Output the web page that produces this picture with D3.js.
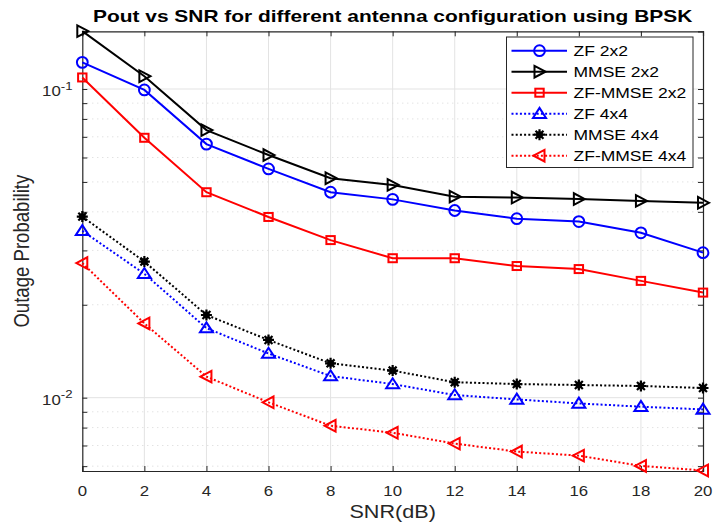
<!DOCTYPE html>
<html><head><meta charset="utf-8">
<script src="https://cdn.jsdelivr.net/npm/d3@7"></script>
<style>body{margin:0;background:#fff}svg{display:block;font-family:"Liberation Sans",Arial,sans-serif}</style>
</head><body>
<svg id="c" width="714" height="526"></svg>
<script>
const snr = [0,2,4,6,8,10,12,14,16,18,20];
const zf2x2 = [0.122,0.0993,0.0663,0.0551,0.0463,0.0439,0.0404,0.0380,0.0372,0.0342,0.0295];
const mmse2x2 = [0.154,0.110,0.0736,0.0611,0.0514,0.0489,0.0448,0.0445,0.0440,0.0434,0.0428];
const zfmmse2x2 = [0.109,0.0695,0.0463,0.0385,0.0324,0.0283,0.0283,0.0267,0.0261,0.0239,0.0219];
const zf4x4 = [0.0347,0.0252,0.0168,0.0139,0.01175,0.01107,0.0102,0.00987,0.00958,0.00935,0.00916];
const mmse4x4 = [0.0386,0.0276,0.01853,0.01538,0.01292,0.01224,0.01122,0.01107,0.01099,0.01091,0.01075];
const zfmmse4x4 = [0.0273,0.0174,0.0117,0.00966,0.00811,0.0077,0.0071,0.00669,0.00649,0.00601,0.00581];
const seriesNames = ["ZF 2x2","MMSE 2x2","ZF-MMSE 2x2","ZF 4x4","MMSE 4x4","ZF-MMSE 4x4"];
const xTicks = [0,2,4,6,8,10,12,14,16,18,20];
const yMajor = [0.1,0.01];
const yMinor = [0.006,0.007,0.008,0.009,0.02,0.03,0.04,0.05,0.06,0.07,0.08,0.09];
const yDomain = [0.005787,0.1538];
const xDomain = [0,20];
const titleText = "Pout vs SNR for different antenna configuration using BPSK";
const xLabel = "SNR(dB)";
const yLabel = "Outage Probability";

const styles = [
  {color:"#0000ff", dash:null, marker:"circle"},
  {color:"#000000", dash:null, marker:"triRight"},
  {color:"#ff0000", dash:null, marker:"square"},
  {color:"#0000ff", dash:"2,2.2", marker:"triUp"},
  {color:"#000000", dash:"2,2.2", marker:"star"},
  {color:"#ff0000", dash:"2,2.2", marker:"triLeft"}
];
const seriesData = [zf2x2, mmse2x2, zfmmse2x2, zf4x4, mmse4x4, zfmmse4x4];

const L=82.3, R=703, T=31.3, B=471;
const SX = 1.2;
const x = d3.scaleLinear().domain(xDomain).range([L,R]);
const y = d3.scaleLog().domain(yDomain).range([B,T]);
const svg = d3.select("#c");
const axisCol = "#262626";

// grid
const grid = svg.append("g");
grid.selectAll(".gx").data(xTicks.slice(1,-1)).join("line")
  .attr("x1",d=>x(d)).attr("x2",d=>x(d)).attr("y1",T).attr("y2",B)
  .attr("stroke","#e3e3e3").attr("stroke-width",1);
grid.selectAll(".gy").data(yMajor).join("line")
  .attr("x1",L).attr("x2",R).attr("y1",d=>y(d)).attr("y2",d=>y(d))
  .attr("stroke","#e3e3e3").attr("stroke-width",1);
grid.selectAll(".gm").data(yMinor).join("line")
  .attr("x1",L).attr("x2",R).attr("y1",d=>y(d)).attr("y2",d=>y(d))
  .attr("stroke","#d6d6d6").attr("stroke-width",1).attr("stroke-dasharray","1,4");

// axes with d3 axis generators (inward ticks)
const axB = d3.axisBottom(x).tickValues(xTicks).tickSize(-5).tickFormat("");
const axT = d3.axisTop(x).tickValues(xTicks).tickSize(-5).tickFormat("");
const yAll = yMajor.concat(yMinor);
const axLft = d3.axisLeft(y).tickValues(yAll).tickSize(-5).tickFormat("");
const axRgt = d3.axisRight(y).tickValues(yAll).tickSize(-5).tickFormat("");
function styleAxis(g){ g.selectAll("path").attr("stroke",axisCol).attr("stroke-width",1.2);
  g.selectAll("line").attr("stroke",axisCol).attr("stroke-width",1); }
svg.append("g").attr("transform",`translate(0,${B})`).call(axB).call(styleAxis);
svg.append("g").attr("transform",`translate(0,${T})`).call(axT).call(styleAxis);
svg.append("g").attr("transform",`translate(${L},0)`).call(axLft).call(styleAxis);
svg.append("g").attr("transform",`translate(${R},0)`).call(axRgt).call(styleAxis);

// horizontally stretched text helper
function sText(px,py,txt,size,anchor,weight,sx){
  const g = svg.append("g").attr("transform",`translate(${px},${py}) scale(${sx||SX},1)`);
  const t = g.append("text").attr("x",0).attr("y",0).attr("font-size",size)
    .attr("text-anchor",anchor||"start").attr("fill",axisCol);
  if(weight) t.attr("font-weight",weight);
  if(txt!==null) t.text(txt);
  return t;
}
xTicks.forEach(v=>sText(x(v),496,String(v),14,"middle"));
yMajor.forEach(v=>{
  const e = Math.round(Math.log10(v));
  const t = sText(72.5,y(v)+7,null,14,"end");
  t.append("tspan").text("10");
  t.append("tspan").attr("font-size",11).attr("dy",-6.5).text("-"+Math.abs(e));
});

// title & labels
sText((L+R)/2,21.5,titleText,17,"middle","bold",1.23).attr("fill","#000");
sText((L+R)/2,517.5,xLabel,18,"middle");
svg.append("g").attr("transform",`translate(29,${(T+B)/2}) scale(1.15,1) rotate(-90)`)
  .append("text").attr("text-anchor","middle").attr("font-size",18.6).attr("fill",axisCol).text(yLabel);

// markers
function drawMarker(g,type,cx,cy,color){
  const sw = 2;
  if(type==="circle"){
    g.append("circle").attr("cx",cx).attr("cy",cy).attr("r",5.4).attr("fill","none").attr("stroke",color).attr("stroke-width",sw);
  } else if(type==="square"){
    g.append("rect").attr("x",cx-4.2).attr("y",cy-4).attr("width",8.4).attr("height",8).attr("fill","none").attr("stroke",color).attr("stroke-width",sw);
  } else if(type==="triUp"){
    g.append("path").attr("d",`M${cx},${cy-5.8}L${cx+6.5},${cy+4.2}L${cx-6.5},${cy+4.2}Z`).attr("fill","none").attr("stroke",color).attr("stroke-width",sw);
  } else if(type==="triRight"){
    g.append("path").attr("d",`M${cx+6},${cy}L${cx-5},${cy-5.8}L${cx-5},${cy+5.8}Z`).attr("fill","none").attr("stroke",color).attr("stroke-width",sw);
  } else if(type==="triLeft"){
    g.append("path").attr("d",`M${cx-6},${cy}L${cx+5},${cy-5.8}L${cx+5},${cy+5.8}Z`).attr("fill","none").attr("stroke",color).attr("stroke-width",sw);
  } else if(type==="star"){
    const r=5.5, d=r*0.72;
    g.append("path").attr("d",`M${cx-r},${cy}L${cx+r},${cy}M${cx},${cy-r}L${cx},${cy+r}M${cx-d},${cy-d}L${cx+d},${cy+d}M${cx-d},${cy+d}L${cx+d},${cy-d}`)
      .attr("stroke",color).attr("stroke-width",2.2).attr("fill","none");
    g.append("circle").attr("cx",cx).attr("cy",cy).attr("r",3.4).attr("fill",color);
  }
}

const line = d3.line().x((d,i)=>x(snr[i])).y(d=>y(d));
seriesData.forEach((vals,k)=>{
  const st = styles[k];
  const g = svg.append("g");
  const p = g.append("path").datum(vals).attr("d",line).attr("fill","none")
    .attr("stroke",st.color).attr("stroke-width",2);
  if(st.dash) p.attr("stroke-dasharray",st.dash);
  vals.forEach((v,i)=>drawMarker(g,st.marker,x(snr[i]),y(v),st.color));
});

// legend
const lg = svg.append("g");
lg.append("rect").attr("x",506.5).attr("y",37).attr("width",186.5).attr("height",130.5)
  .attr("fill","#fff").attr("stroke",axisCol).attr("stroke-width",1);
seriesNames.forEach((name,k)=>{
  const st = styles[k];
  const cy = 50.7 + k*21;
  const ln = lg.append("line").attr("x1",511.5).attr("x2",567).attr("y1",cy).attr("y2",cy)
    .attr("stroke",st.color).attr("stroke-width",2);
  if(st.dash) ln.attr("stroke-dasharray",st.dash);
  drawMarker(lg,st.marker,539.5,cy,st.color);
  lg.append("g").attr("transform",`translate(573.5,${cy+5.5}) scale(${SX},1)`)
    .append("text").attr("font-size",14.6).attr("fill","#000").text(name);
});
</script>
</body></html>
